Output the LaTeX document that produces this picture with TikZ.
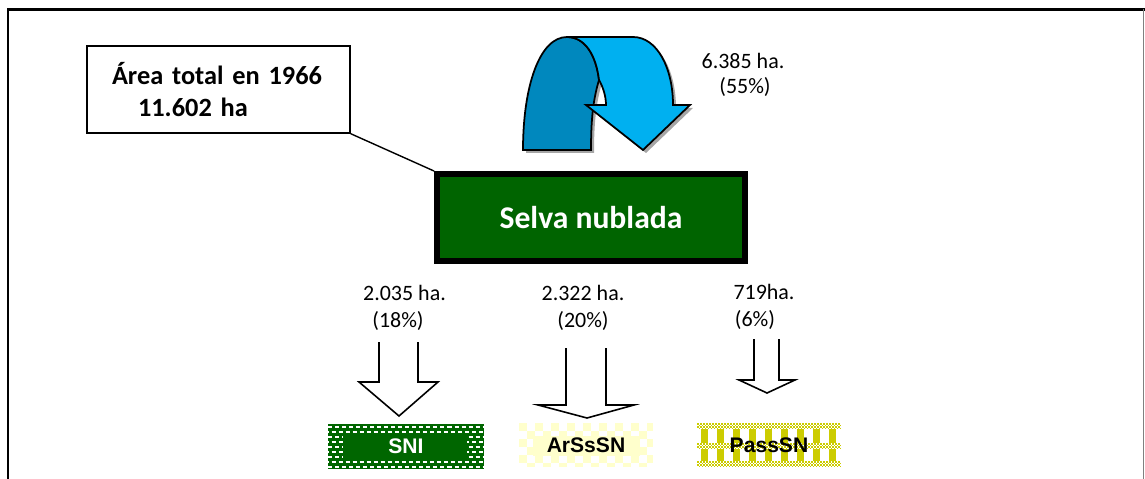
\documentclass[tikz,border=0pt]{standalone}
\usepackage{fontspec}
\setmainfont{Carlito}
\newfontfamily\arialfont{Liberation Sans}
\usetikzlibrary{backgrounds,shadows}

\definecolor{selva}{RGB}{0,100,0}
\definecolor{sni}{RGB}{0,102,0}
\definecolor{arssn}{RGB}{255,255,204}
\definecolor{passsn}{RGB}{204,204,0}
\definecolor{turnback}{RGB}{0,136,190}
\definecolor{turnfront}{RGB}{0,176,240}

\tikzset{
  lbl/.style={font=\fontsize{12.5}{15}\selectfont, inner sep=0pt},
  blockarrow/.style={draw, line width=0.9pt, line join=miter},
  landbox/.style={minimum height=0.88cm, inner sep=0pt, font=\arialfont\bfseries\fontsize{12}{14}\selectfont},
}

\begin{document}
\begin{tikzpicture}[x=0.02cm, y=-0.02cm]
\useasboundingbox (0,0) rectangle (1145,479);
% marco
\draw[line width=1.7pt] (8,479) -- (8,9.5) -- (1145,9.5);
\draw[gray, line width=0.6pt] (1143.5,9) -- (1143.5,479);

% flecha en U (se mantiene)
\begin{scope}[shift={(3,3)}]
  \fill[gray!70] (523,150) .. controls (523,85) and (540,37) .. (567,37)
    .. controls (585,37) and (596,55) .. (599,80)
    .. controls (593,100) and (591,120) .. (591,150) -- cycle;
  \fill[gray!70] (567,37) -- (633,37) .. controls (657,37) and (673,68) .. (673,105)
    -- (690,105) -- (643,150) -- (586,105) -- (606,105)
    .. controls (606,95) and (602,85) .. (599,80)
    .. controls (596,55) and (585,37) .. (567,37) -- cycle;
\end{scope}
\draw[fill=turnback, line width=1pt] (523,150) .. controls (523,85) and (540,37) .. (567,37)
  .. controls (585,37) and (596,55) .. (599,80)
  .. controls (593,100) and (591,120) .. (591,150) -- cycle;
\draw[fill=turnfront, line width=1pt, line join=miter] (567,37) -- (633,37) .. controls (657,37) and (673,68) .. (673,105)
  -- (690,105) -- (643,150) -- (586,105) -- (606,105)
  .. controls (606,95) and (602,85) .. (599,80)
  .. controls (596,55) and (585,37) .. (567,37) -- cycle;
\node[lbl] (cantvuelta) at (743,61) {6.385 ha.};
\node[lbl] (pctvuelta) at (745,87) {(55\%)};

% nodos principales
\node (selva) [draw, line width=3.4pt, fill=selva, minimum width=6.16cm, minimum height=1.74cm,
  text=white, font=\bfseries\fontsize{18}{21}\selectfont,
  drop shadow={opacity=0.35, shadow xshift=1.5pt, shadow yshift=-1.5pt}] at (591,217.5) {Selva nublada};
\node (area) [draw, line width=0.8pt, fill=white, minimum width=5.26cm, minimum height=1.74cm,
  text width=4.26cm, align=left, inner sep=0pt, font=\bfseries\fontsize{15}{18}\selectfont]
  at (218.5,89.5) {Área total en 1966\\\hspace*{0.52cm}11.602 ha};
\draw[line width=0.8pt] (area.south east) -- (selva.north west);

% cambios
\node[lbl] (cantsni) at (404.5,293) {2.035 ha.};
\node[lbl] (pctsni) at (398,321) {(18\%)};
\node[lbl] (cantarssn) at (583,293) {2.322 ha.};
\node[lbl] (pctarssn) at (583,321) {(20\%)};
\node[lbl] (cantpasssn) at (764,292) {719ha.};
\node[lbl] (pctpasssn) at (755,320) {(6\%)};

\draw[blockarrow] (379,342) -- (379,382) -- (359,382) -- (399,416) -- (438,382) -- (418,382) -- (418,342);
\draw[blockarrow] (566,348) -- (566,405) -- (538,405) -- (587,418) -- (634,405) -- (606,405) -- (606,348);
\draw[blockarrow] (754,339) -- (754,380) -- (739,380) -- (767,393) -- (795,380) -- (779,380) -- (779,339);

\node[landbox, minimum width=3.12cm, text=white] (sni) at (406,446.5) {SNI};
\node[landbox, minimum width=2.68cm] (arssn) at (586,445) {ArSsSN};
\node[landbox, minimum width=2.88cm] (passsn) at (769,445) {PassSN};

\begin{scope}[on background layer]
  % SNI
  \fill[sni] (sni.north west) rectangle (sni.south east);
  \begin{scope}
    \clip (sni.north west) rectangle (sni.south east);
    \foreach \y in {427,437,...,467}
      \draw[white, line width=1.6pt, dash pattern=on 2.3pt off 1.7pt] (328,\y) -- (484,\y);
    \foreach \y in {432,442,...,462}
      \draw[white, line width=1.6pt, dash pattern=on 2.3pt off 1.7pt, dash phase=2pt] (328,\y) -- (484,\y);
  \end{scope}
  \fill[sni] (343,434) rectangle (467,461);
  % ArSsSN
  \fill[arssn] (arssn.north west) rectangle (arssn.south east);
  \begin{scope}
    \clip (arssn.north west) rectangle (arssn.south east);
    \foreach \x in {519,535,...,647}
      \foreach \y in {423,439,455} {
        \fill[white] (\x+8,\y) rectangle ++(8,8);
        \fill[white] (\x,\y+8) rectangle ++(8,8);
      }
  \end{scope}
  \fill[arssn] (533,436) rectangle (640,456);
  % PassSN
  \begin{scope}
    \clip (passsn.north west) rectangle (passsn.south east);
    \foreach \x in {701,717,...,837}
      \fill[passsn] (\x,423) rectangle ++(7,44);
    \foreach \yb in {423,443,461} {
      \fill[white] (697,\yb) rectangle (841,\yb+6);
      \foreach \x in {697,700,...,839}
        \foreach \dy in {0,3} {
          \fill[passsn] (\x,\yb+\dy) rectangle ++(1.5,1.5);
          \fill[passsn] (\x+1.5,\yb+\dy+1.5) rectangle ++(1.5,1.5);
        }
    }
  \end{scope}
\end{scope}
\end{tikzpicture}
\end{document}
